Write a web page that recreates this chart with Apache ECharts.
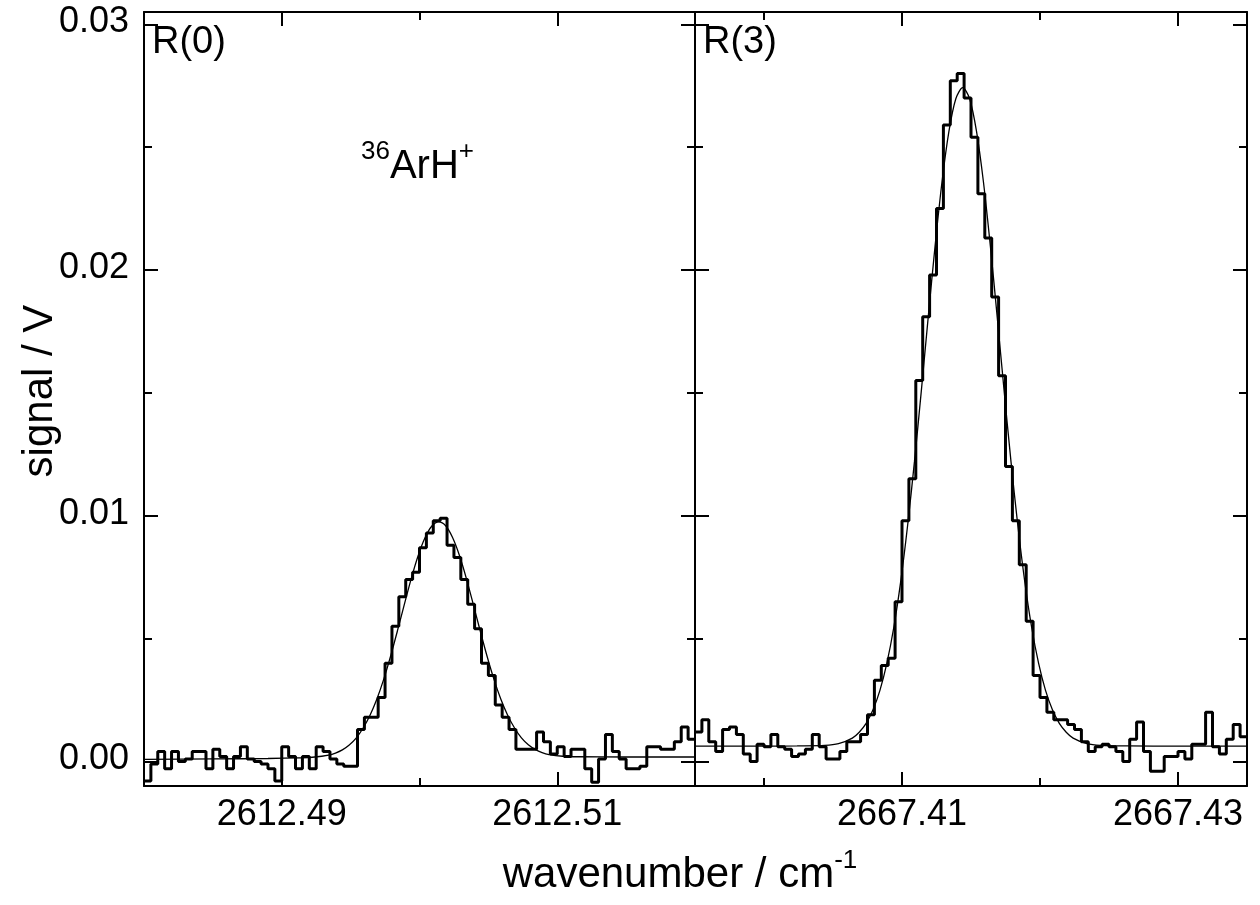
<!DOCTYPE html>
<html><head><meta charset="utf-8">
<script src="https://cdn.jsdelivr.net/npm/echarts@6/dist/echarts.min.js"></script>
<style>html,body{margin:0;padding:0;background:#fff}#c{width:1260px;height:905px}</style>
</head><body><div id="c"></div>
<script>
// ---------------- data ----------------
const leftStart = 2612.48, leftEnd = 2612.52;
const rightStart = 2667.395, rightEnd = 2667.435;
const binWidth = 0.0005;
const yMin = -0.001, yMax = 0.0305;

const leftSignal = [
 -0.0008,-0.0001,0.0004,-0.0003,0.0004,0.0000,0.0001,0.0004,0.0004,-0.0003,
  0.0005,0.0002,-0.0003,0.0002,0.0006,0.0001,0.0000,-0.0001,-0.0003,-0.0008,
  0.0006,0.0002,-0.0003,0.0002,-0.0003,0.0006,0.0004,0.0001,-0.0001,-0.0002,
 -0.0002,0.0013,0.0018,0.0018,0.0026,0.0040,0.0055,0.0067,0.0074,0.0077,
  0.0087,0.0093,0.0098,0.0099,0.0088,0.0083,0.0074,0.0064,0.0054,0.0040,
  0.0035,0.0023,0.0018,0.0013,0.0005,0.0005,0.0005,0.0012,0.0008,0.0003,
  0.0006,0.0002,0.0005,0.0005,-0.0003,-0.00085,0.0001,0.0011,0.0004,0.0001,
 -0.0003,-0.0003,-0.0002,0.0006,0.0006,0.0005,0.0005,0.0008,0.0014,0.0009
];
const rightSignal = [
  0.0012,0.0017,0.0008,0.0004,0.0013,0.0014,0.0011,0.0003,0.0000,0.0007,
  0.0006,0.0011,0.0006,0.0005,0.0002,0.0003,0.0005,0.0011,0.0006,0.0001,
  0.0001,0.0004,0.0008,0.0008,0.0011,0.0019,0.0033,0.0039,0.0042,0.0065,
  0.0098,0.0115,0.0155,0.0181,0.0198,0.0225,0.0259,0.0277,0.0280,0.0270,
  0.0254,0.0231,0.0213,0.0189,0.0157,0.0120,0.0098,0.0080,0.0057,0.0035,
  0.0026,0.0020,0.0017,0.0017,0.0015,0.0013,0.0008,0.0004,0.0006,0.0007,
  0.0006,0.0004,0.0000,0.0009,0.0016,0.0004,-0.0004,-0.0004,0.0002,0.0002,
  0.0004,0.0001,0.0007,0.0007,0.0020,0.0006,0.0003,0.0009,0.0015,0.0010
];
const leftFitX = [2612.480,2612.485,2612.489,2612.4914,2612.4924,2612.4934,2612.4939,2612.4944,2612.4949,2612.4954,
  2612.4959,2612.4964,2612.4969,2612.4974,2612.4979,2612.4984,2612.4989,2612.4994,2612.4999,2612.5004,
  2612.5009,2612.5014,2612.5019,2612.5024,2612.5029,2612.5034,2612.5039,2612.5044,2612.5049,2612.5054,
  2612.5059,2612.5064,2612.5069,2612.5074,2612.5079,2612.5084,2612.5089,2612.5094,2612.5104,2612.5114,
  2612.515,2612.520];
const leftFitY = [0.00008,0.00010,0.00012,0.00015,0.00018,0.00026,0.00034,0.00047,0.00067,0.00095,
  0.00135,0.00187,0.00253,0.00334,0.00428,0.00532,0.00639,0.00744,0.00837,0.00910,
  0.00958,0.00975,0.00959,0.00911,0.00838,0.00745,0.00640,0.00533,0.00429,0.00335,
  0.00254,0.00188,0.00136,0.00096,0.00068,0.00049,0.00036,0.00028,0.00021,0.00019,
  0.00018,0.00018];
const rightFitX = [2667.395,2667.400,2667.4024,2667.4044,2667.4054,2667.4064,2667.4069,2667.4074,2667.4079,2667.4084,
  2667.4089,2667.4094,2667.4099,2667.4104,2667.4109,2667.4114,2667.4119,2667.4124,2667.4129,2667.4134,
  2667.4139,2667.4144,2667.4149,2667.4154,2667.4159,2667.4164,2667.4169,2667.4174,2667.4179,2667.4184,
  2667.4189,2667.4194,2667.4199,2667.4204,2667.4209,2667.4214,2667.4219,2667.4224,2667.4234,2667.4244,
  2667.4264,2667.430,2667.435];
const rightFitY = [0.00062,0.00062,0.00063,0.00065,0.00072,0.00095,0.00119,0.00155,0.00210,0.00289,
  0.00399,0.00544,0.00730,0.00957,0.01219,0.01508,0.01808,0.02099,0.02359,0.02564,
  0.02697,0.02742,0.02697,0.02564,0.02359,0.02099,0.01808,0.01508,0.01219,0.00957,
  0.00730,0.00544,0.00399,0.00289,0.00210,0.00155,0.00119,0.00095,0.00072,0.00065,
  0.00063,0.00062,0.00062];

const yLabelTicks = [0, 0.01, 0.02, 0.03];
const yMinorTicks = [0.005, 0.015, 0.025];
const leftLabelTicks = [2612.49, 2612.51];
const leftMinorTicks = [2612.50];
const rightLabelTicks = [2667.41, 2667.43];
const rightMinorTicks = [2667.40, 2667.42];
const panelLabels = ['R(0)', 'R(3)'];
const speciesLabel = ['36', 'ArH', '+'];
const yTitle = 'signal / V';
const xTitle = ['wavenumber / cm', '-1'];

// ---------------- chart ----------------
const FONT = '"Liberation Sans", Arial, Helvetica, sans-serif';
const chart = echarts.init(document.getElementById('c'), null, {renderer: 'canvas'});

function stepData(start, vals) {
  const d = vals.map((v, i) => [start + i * binWidth, v]);
  d.push([start + vals.length * binWidth, vals[vals.length - 1]]);
  return d;
}
function pairs(xs, ys) { return xs.map((x, i) => [x, ys[i]]); }

const BLACK = '#000';
function xAx(grid, min, max, pos, ticks, len, line) {
  return {type: 'value', gridIndex: grid, position: pos, min: min, max: max,
    axisLine: {show: line, onZero: false, lineStyle: {color: BLACK, width: 2}},
    axisTick: {show: true, inside: true, length: len, customValues: ticks, lineStyle: {color: BLACK, width: 2}},
    axisLabel: {show: false}, splitLine: {show: false}};
}
function yAx(grid, pos, ticks, len, line) {
  return {type: 'value', gridIndex: grid, position: pos, min: yMin, max: yMax,
    axisLine: {show: line, onZero: false, lineStyle: {color: BLACK, width: 2}},
    axisTick: {show: true, inside: true, length: len, customValues: ticks, lineStyle: {color: BLACK, width: 2}},
    axisLabel: {show: false}, splitLine: {show: false}};
}

const MAJ = 14, MIN = 8;
const option = {
  animation: false,
  backgroundColor: '#fff',
  grid: [
    {left: 144, top: 12, width: 551, height: 774},
    {left: 695, top: 12, width: 552, height: 774}
  ],
  xAxis: [
    xAx(0, leftStart, leftEnd, 'bottom', leftLabelTicks, MAJ, true),
    xAx(0, leftStart, leftEnd, 'bottom', leftMinorTicks, MIN, false),
    xAx(0, leftStart, leftEnd, 'top', leftLabelTicks, MAJ, true),
    xAx(0, leftStart, leftEnd, 'top', leftMinorTicks, MIN, false),
    xAx(1, rightStart, rightEnd, 'bottom', rightLabelTicks, MAJ, true),
    xAx(1, rightStart, rightEnd, 'bottom', rightMinorTicks, MIN, false),
    xAx(1, rightStart, rightEnd, 'top', rightLabelTicks, MAJ, true),
    xAx(1, rightStart, rightEnd, 'top', rightMinorTicks, MIN, false)
  ],
  yAxis: [
    yAx(0, 'left', yLabelTicks, MAJ, true),
    yAx(0, 'left', yMinorTicks, MIN, false),
    yAx(0, 'right', yLabelTicks, MAJ, true),
    yAx(0, 'right', yMinorTicks, MIN, false),
    yAx(1, 'left', yLabelTicks, MAJ, true),
    yAx(1, 'left', yMinorTicks, MIN, false),
    yAx(1, 'right', yLabelTicks, MAJ, true),
    yAx(1, 'right', yMinorTicks, MIN, false)
  ],
  series: [
    {type: 'line', xAxisIndex: 0, yAxisIndex: 0, step: 'end', data: stepData(leftStart, leftSignal),
     showSymbol: false, lineStyle: {color: BLACK, width: 3}, z: 3},
    {type: 'line', xAxisIndex: 0, yAxisIndex: 0, smooth: 0.3, data: pairs(leftFitX, leftFitY),
     showSymbol: false, lineStyle: {color: BLACK, width: 1.3}, z: 4},
    {type: 'line', xAxisIndex: 4, yAxisIndex: 4, step: 'end', data: stepData(rightStart, rightSignal),
     showSymbol: false, lineStyle: {color: BLACK, width: 3}, z: 3},
    {type: 'line', xAxisIndex: 4, yAxisIndex: 4, smooth: 0.3, data: pairs(rightFitX, rightFitY),
     showSymbol: false, lineStyle: {color: BLACK, width: 1.3}, z: 4}
  ]
};
chart.setOption(option);

// text labels (real text), placed from the axes' own scales
function txt(x, y, text, size, align, vAlign) {
  return {type: 'text', x: x, y: y, z: 10,
    style: {text: text, x: 0, y: 0, fill: BLACK, fontSize: size, fontFamily: FONT,
            align: align, verticalAlign: vAlign}};
}
const bottomY = chart.convertToPixel({yAxisIndex: 0}, yMin);
const topY = chart.convertToPixel({yAxisIndex: 0}, yMax);
const leftX = chart.convertToPixel({xAxisIndex: 0}, leftStart);
const rightX0 = chart.convertToPixel({xAxisIndex: 4}, rightStart);
const TICK_FS = 36, TITLE_FS = 42;
const g = [];
yLabelTicks.forEach(v => {
  g.push(txt(leftX - 15, chart.convertToPixel({yAxisIndex: 0}, v) - 2, v.toFixed(2), TICK_FS, 'right', 'middle'));
});
leftLabelTicks.forEach(v => g.push(txt(chart.convertToPixel({xAxisIndex: 0}, v), bottomY + 11, v.toFixed(2), TICK_FS, 'center', 'top')));
rightLabelTicks.forEach(v => g.push(txt(chart.convertToPixel({xAxisIndex: 4}, v), bottomY + 11, v.toFixed(2), TICK_FS, 'center', 'top')));
g.push(txt(leftX + 8, topY + 12, panelLabels[0], 38, 'left', 'top'));
g.push(txt(rightX0 + 8, topY + 12, panelLabels[1], 38, 'left', 'top'));
const supRich = {
  s: {fontSize: 26, fontFamily: FONT, verticalAlign: 'top', fill: BLACK, lineHeight: 48},
  n: {fontSize: 40, fontFamily: FONT, verticalAlign: 'bottom', fill: BLACK, lineHeight: 48}
};
g.push({type: 'text', x: 361, y: 163, z: 10, style: {
  text: '{s|' + speciesLabel[0] + '}{n|' + speciesLabel[1] + '}{s|' + speciesLabel[2] + '}',
  x: 0, y: 0, align: 'left', verticalAlign: 'middle', fill: BLACK, rich: supRich}});
g.push({type: 'text', x: 40, y: (topY + bottomY) / 2 - 8, rotation: Math.PI / 2, z: 10, style: {
  text: yTitle, x: 0, y: 0, align: 'center', verticalAlign: 'middle', fill: BLACK, fontSize: TITLE_FS, fontFamily: FONT}});
g.push({type: 'text', x: 680, y: 872, z: 10, style: {
  text: '{n|' + xTitle[0] + '}{s|' + xTitle[1] + '}', x: 0, y: 0, align: 'center', verticalAlign: 'middle', fill: BLACK,
  rich: {
    s: {fontSize: 26, fontFamily: FONT, verticalAlign: 'top', fill: BLACK, lineHeight: 48},
    n: {fontSize: TITLE_FS, fontFamily: FONT, verticalAlign: 'bottom', fill: BLACK, lineHeight: 48}
  }}});
chart.setOption({graphic: {elements: g}});
</script></body></html>
